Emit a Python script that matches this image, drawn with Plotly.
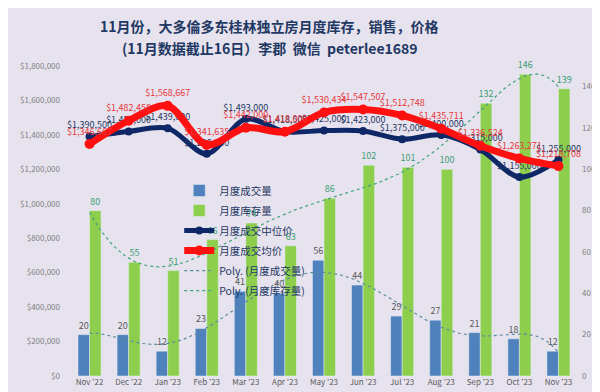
import numpy as np
import plotly.graph_objects as go

months = ["Nov '22", "Dec '22", "Jan '23", "Feb '23", "Mar '23", "Apr '23", "May '23",
          "Jun '23", "Jul '23", "Aug '23", "Sep '23", "Oct '23", "Nov '23"]
sales = [20, 20, 12, 23, 41, 40, 56, 44, 29, 27, 21, 18, 12]
inventory = [80, 55, 51, 66, 74, 63, 86, 102, 101, 100, 132, 146, 139]
median_price = [1390500, 1420000, 1439000, 1290000, 1493000, 1418500, 1425000,
                1423000, 1375000, 1400000, 1315000, 1155000, 1255000]
avg_price = [1346667, 1482458, 1568667, 1341635, 1442000, 1418000, 1530434,
             1547507, 1512748, 1435711, 1336524, 1263271, 1218708]
title_lines = ["11月份，大多倫多东桂林独立房月度库存，销售，价格",
               "(11月数据截止16日）李郡  微信  peterlee1689"]

x = np.arange(len(months))
xf = np.linspace(0, len(months) - 1, 200)
poly_sales = np.polyval(np.polyfit(x, sales, 6), xf)
poly_inv = np.polyval(np.polyfit(x, inventory, 6), xf)

BG = "#E7E3EE"
fig = go.Figure()
fig.add_trace(go.Bar(x=x, y=sales, name="月度成交量", marker_color="#4F81BD",
                     text=sales, textposition="outside", cliponaxis=False, constraintext="none",
                     textfont=dict(size=9, color="#595959"), yaxis="y", legendgroup="a"))
fig.add_trace(go.Bar(x=x, y=inventory, name="月度库存量", marker_color="#8DCF4C",
                     text=inventory, textposition="outside", cliponaxis=False, constraintext="none",
                     textfont=dict(size=9, color="#3A9E74"), yaxis="y", legendgroup="b"))
fig.add_trace(go.Scatter(x=x, y=median_price, name="月度成交中位价", mode="lines+markers+text",
                         line=dict(color="#0E2766", width=5, shape="spline", smoothing=0.9),
                         marker=dict(size=8, color="#0E2766"),
                         text=[f"${v:,.0f}" for v in median_price], textposition="top center",
                         textfont=dict(size=9, color="#1F3864"), cliponaxis=False, yaxis="y2",
                         legendgroup="c"))
fig.add_trace(go.Scatter(x=x, y=avg_price, name="月度成交均价", mode="lines+markers+text",
                         line=dict(color="#FF1010", width=7, shape="spline", smoothing=0.9),
                         marker=dict(size=10, color="#FF1010"),
                         text=[f"${v:,.0f}" for v in avg_price], textposition="top center",
                         textfont=dict(size=9, color="#E8383D"), cliponaxis=False, yaxis="y2",
                         legendgroup="d"))
fig.add_trace(go.Scatter(x=xf, y=poly_sales, name="Poly. (月度成交量)", mode="lines",
                         line=dict(color="#5A8AA0", width=1.2, dash="dot"), yaxis="y",
                         legendgroup="e"))
fig.add_trace(go.Scatter(x=xf, y=poly_inv, name="Poly. (月度库存量)", mode="lines",
                         line=dict(color="#3EA37A", width=1.2, dash="dot"), yaxis="y",
                         legendgroup="f"))

for i, (line, shift) in enumerate(zip(title_lines, [40, 18])):
    fig.add_annotation(text=f"<b>{line}</b>", xref="paper", yref="paper", x=0.393, y=1,
                       xanchor="center", yanchor="middle", yshift=shift, showarrow=False,
                       font=dict(family="Noto Sans CJK SC", size=14, color="#1F3864"))

fig.update_layout(
    width=600, height=392,
    paper_bgcolor=BG, plot_bgcolor=BG,
    margin=dict(l=55, r=18, t=58, b=24),
    barmode="group", bargap=0.41, bargroupgap=0,
    font=dict(family="Noto Sans CJK SC", color="#595959"),
    xaxis=dict(tickvals=list(x), ticktext=months, range=[-0.5, len(months) - 0.5],
               showgrid=False, zeroline=False, tickfont=dict(size=8, color="#595959"),
               ticklen=0),
    yaxis=dict(side="right", range=[0, 150], tickvals=list(range(0, 141, 20)), showgrid=False,
               zeroline=False, tickfont=dict(size=8, color="#7F7F7F"), ticklabelstandoff=3),
    yaxis2=dict(side="left", overlaying="y", range=[0, 1800000], dtick=200000,
                tickformat="$,.0f", showgrid=False, zeroline=False,
                tickfont=dict(size=8, color="#7F7F7F"), ticklabelstandoff=9),
    legend=dict(x=0.215, y=0.645, xanchor="left", yanchor="top", bgcolor="rgba(0,0,0,0)",
                font=dict(size=10.5, color="#1F3864"), tracegroupgap=1, itemwidth=30),
    showlegend=True,
)
fig.write_html("out.html")
